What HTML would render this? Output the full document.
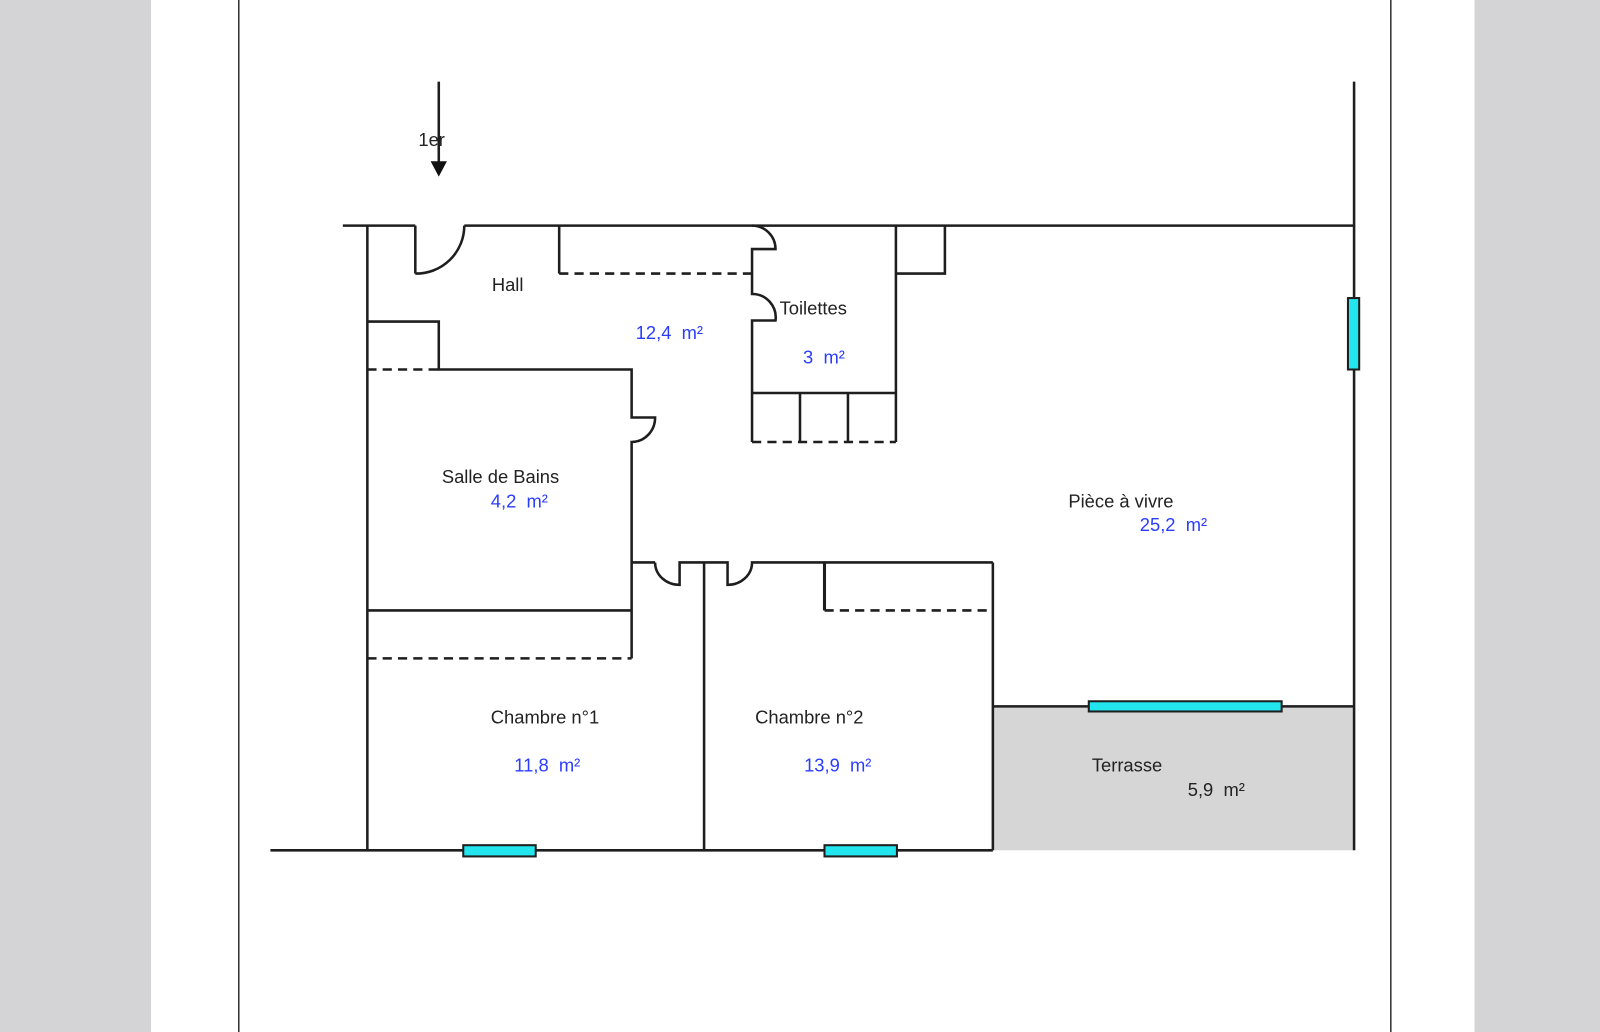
<!DOCTYPE html>
<html><head><meta charset="utf-8"><style>
html,body{margin:0;padding:0;background:#d4d4d6;}
svg{display:block}
text{font-family:"Liberation Sans",Arial,sans-serif;font-size:18px;white-space:pre;}
.b{fill:#2a3cff}
.k{fill:#222}
</style></head><body>
<svg width="1600" height="1032" viewBox="0 0 1568 1011" preserveAspectRatio="none">
<rect x="0" y="0" width="1568" height="1011" fill="#d4d4d6"/>
<rect x="148" y="0" width="1297" height="1011" fill="#fff"/>
<line x1="234" y1="0" x2="234" y2="1011" stroke="#333" stroke-width="1.5"/>
<line x1="1363" y1="0" x2="1363" y2="1011" stroke="#333" stroke-width="1.5"/>
<rect x="973" y="692" width="354" height="141" fill="#d6d6d6"/>
<g stroke="#1e1e1e" stroke-width="2.5" fill="none">
<line x1="430" y1="80" x2="430" y2="160"/>
<line x1="336" y1="221" x2="407" y2="221"/>
<line x1="407" y1="221" x2="407" y2="268"/>
<path d="M407 268 A47 47 0 0 0 455 221"/>
<line x1="455" y1="221" x2="1327" y2="221"/>
<line x1="360" y1="221" x2="360" y2="833"/>
<line x1="548" y1="221" x2="548" y2="268"/>
<line x1="548" y1="268" x2="737" y2="268" stroke-dasharray="9,6"/>
<path d="M737 221 A23 23 0 0 1 760 244 L737 244 L737 288 A23 23 0 0 1 760 314 L737 314 L737 433"/>
<line x1="878" y1="221" x2="878" y2="433"/>
<line x1="737" y1="385" x2="878" y2="385"/>
<line x1="784" y1="385" x2="784" y2="433"/>
<line x1="831" y1="385" x2="831" y2="433"/>
<line x1="737" y1="433" x2="878" y2="433" stroke-dasharray="9,6"/>
<path d="M878 268 L926 268 L926 221"/>
<path d="M360 315 L430 315 L430 362 L619 362 L619 409 L642 409 A23 24 0 0 1 619 433 L619 645"/>
<line x1="360" y1="362" x2="430" y2="362" stroke-dasharray="9,6"/>
<line x1="360" y1="598" x2="619" y2="598"/>
<line x1="360" y1="645" x2="619" y2="645" stroke-dasharray="9,6"/>
<line x1="619" y1="551" x2="642" y2="551"/>
<path d="M642 551 A24 22 0 0 0 666 573 L666 551 L713 551 L713 573 A24 22 0 0 0 737 551 L973 551"/>
<line x1="690" y1="551" x2="690" y2="833"/>
<line x1="808" y1="551" x2="808" y2="598" stroke-width="3"/>
<line x1="808" y1="598" x2="973" y2="598" stroke-dasharray="9,6"/>
<line x1="973" y1="551" x2="973" y2="833"/>
<line x1="973" y1="692" x2="1327" y2="692"/>
<line x1="1327" y1="80" x2="1327" y2="833"/>
<line x1="265" y1="833" x2="973" y2="833"/>
</g>
<polygon points="422,158 438,158 430,173" fill="#111"/>
<g fill="#22e5ee" stroke="#1e1e1e" stroke-width="2">
<rect x="1067" y="687" width="189" height="10"/>
<rect x="1321" y="292" width="11" height="70"/>
<rect x="454" y="828" width="71" height="11"/>
<rect x="808" y="828" width="71" height="11"/>
</g>
<text x="410" y="143" class="k">1er</text>
<text x="482" y="285" class="k">Hall</text>
<text x="623" y="332" class="b">12,4  m²</text>
<text x="764" y="308" class="k">Toilettes</text>
<text x="787" y="356" class="b">3  m²</text>
<text x="433" y="473" class="k">Salle de Bains</text>
<text x="481" y="497" class="b">4,2  m²</text>
<text x="1047" y="497" class="k">Pièce à vivre</text>
<text x="1117" y="520" class="b">25,2  m²</text>
<text x="481" y="709" class="k">Chambre n°1</text>
<text x="504" y="756" class="b">11,8  m²</text>
<text x="740" y="709" class="k">Chambre n°2</text>
<text x="788" y="756" class="b">13,9  m²</text>
<text x="1070" y="756" class="k">Terrasse</text>
<text x="1164" y="780" class="k">5,9  m²</text>
</svg>
</body></html>
